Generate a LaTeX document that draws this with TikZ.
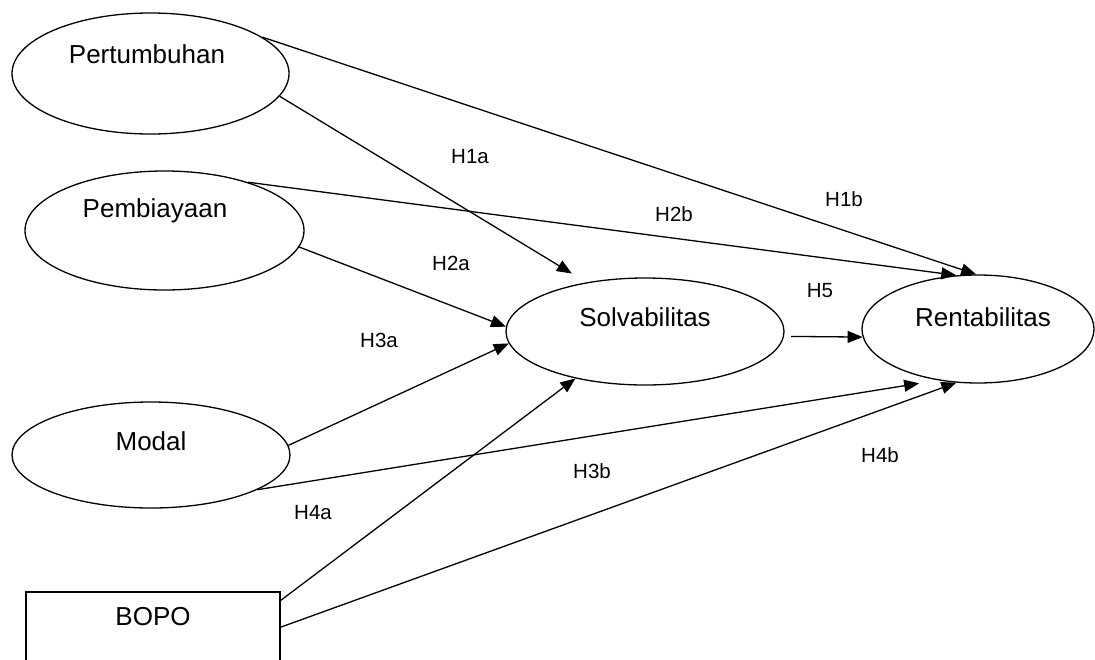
\documentclass[tikz,border=0pt]{standalone}
\usepackage{fontspec}
\setmainfont{Liberation Sans}
\usetikzlibrary{shapes.geometric,arrows.meta}
\tikzset{
  oval/.style={ellipse, draw, line width=1.3pt, inner sep=0pt},
  boxnode/.style={rectangle, draw, line width=1.3pt, inner sep=0pt},
  nodetext/.style={inner sep=0pt, font=\fontsize{26}{30}\selectfont},
  hyp/.style={inner sep=0pt, font=\fontsize{20.5}{24}\selectfont},
  arr/.style={line width=1.3pt, -{Triangle[length=15pt,width=12pt]}}
}
\begin{document}
\begin{tikzpicture}[x=1pt,y=-1pt]
\useasboundingbox (0,0) rectangle (1095,659);
\clip (0,0) rectangle (1095,659);
\fill[white] (0,0) rectangle (1095,659);
% nodes
\node[oval, minimum width=277pt, minimum height=121pt] (pert) at (150.5,73.5) {};
\node[nodetext] (pertT) at (147,54) {Pertumbuhan};
\node[oval, minimum width=279pt, minimum height=119pt] (pemb) at (164.5,230.5) {};
\node[nodetext] (pembT) at (155,211) {Pembiayaan};
\node[oval, minimum width=278pt, minimum height=106pt] (modal) at (151,455) {};
\node[nodetext] (modalT) at (151,441) {Modal};
\node[oval, minimum width=278pt, minimum height=107pt] (solv) at (645,331.5) {};
\node[nodetext] (solvT) at (645,317) {Solvabilitas};
\node[oval, minimum width=232pt, minimum height=108pt] (rent) at (978,329) {};
\node[nodetext] (rentT) at (983,317) {Rentabilitas};
\node[boxnode, minimum width=254pt, minimum height=120pt] (bopo) at (153,652) {};
\node[nodetext] (bopoT) at (153,617) {BOPO};
% connectors
\draw[arr] (pert.18) -- (rent.92);
\draw[arr, shorten >=17pt] (pert.-10) -- (solv.140);
\draw[arr] (pemb.30.5) -- (rent.112);
\draw[arr] (pemb.-7) -- (solv.178);
\draw[arr] (modal.4) -- (solv.185);
\draw[arr, shorten >=19pt] (modal.-18) -- (rent.232);
\draw[arr] (bopo.22.3) -- (solv.214);
\draw[arr] (bopo.11.1) -- (rent.248);
\draw[arr, shorten <=7pt] (solv.-2.3) -- (rent.184);
% labels
\node[hyp] (h1a) at (470,157) {H1a};
\node[hyp] (h1b) at (844,199) {H1b};
\node[hyp] (h2a) at (451,263) {H2a};
\node[hyp] (h2b) at (674,214) {H2b};
\node[hyp] (h3a) at (379,340) {H3a};
\node[hyp] (h3b) at (592,471) {H3b};
\node[hyp] (h4a) at (313,513) {H4a};
\node[hyp] (h4b) at (880,455) {H4b};
\node[hyp] (h5) at (820,291) {H5};
\end{tikzpicture}
\end{document}
